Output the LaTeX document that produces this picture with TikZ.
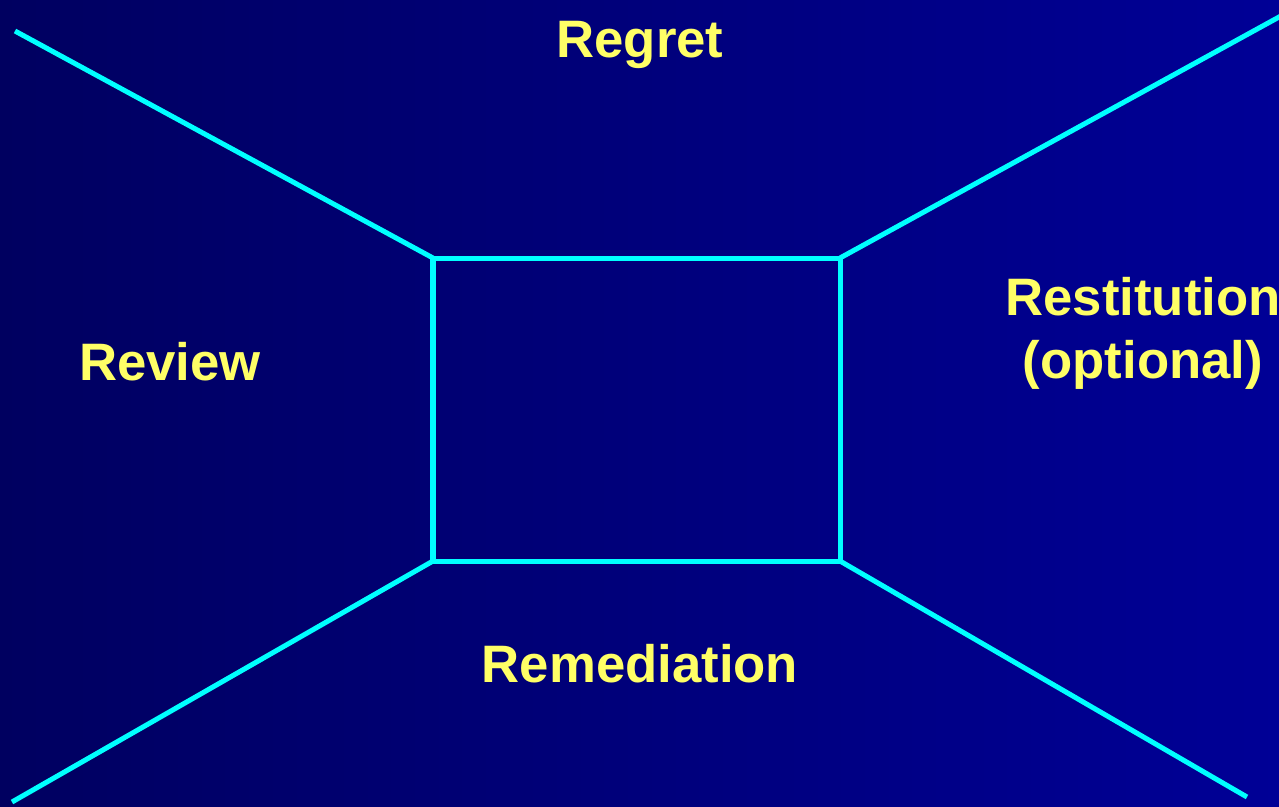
\documentclass[tikz,border=0pt]{standalone}
\usepackage{fontspec}
\setmainfont{Liberation Sans}
\definecolor{bgleft}{RGB}{0,0,96}
\definecolor{bgright}{RGB}{0,0,150}
\definecolor{edgecyan}{RGB}{0,255,255}
\definecolor{lblyellow}{RGB}{255,255,102}

\begin{document}
\begin{tikzpicture}[
  x=0.02cm, y=-0.02cm,
  edge/.style={draw=edgecyan, line width=2.85pt, line join=miter},
  lbl/.style={text=lblyellow, font=\fontsize{30}{35.5}\selectfont\bfseries, anchor=base, inner sep=0pt, align=center}
]
\shade[left color=bgleft, right color=bgright] (0,0) rectangle (1279,806);
\useasboundingbox (0,0) rectangle (1279,806);
% inner frame
\coordinate (tl) at (433,258);
\coordinate (tr) at (840,258);
\coordinate (br) at (840,561);
\coordinate (bl) at (433,561);
% outer ends
\coordinate (otl) at (15,31);
\coordinate (otr) at (1290,11);
\coordinate (obr) at (1247,797);
\coordinate (obl) at (12,802);
\draw[edge] (tl) -- (tr) -- (br) -- (bl) -- cycle;
\draw[edge] (otl) -- (tl);
\draw[edge] (otr) -- (tr);
\draw[edge] (obr) -- (br);
\draw[edge] (obl) -- (bl);
% labels
\node[lbl] (regret) at (640,57) {Regret};
\node[lbl] (review) at (170,380) {Review};
\node[lbl] (restit) at (1143,378) {Restitution\\(optional)};
\node[lbl] (remed) at (640,682) {Remediation};
\end{tikzpicture}
\end{document}
